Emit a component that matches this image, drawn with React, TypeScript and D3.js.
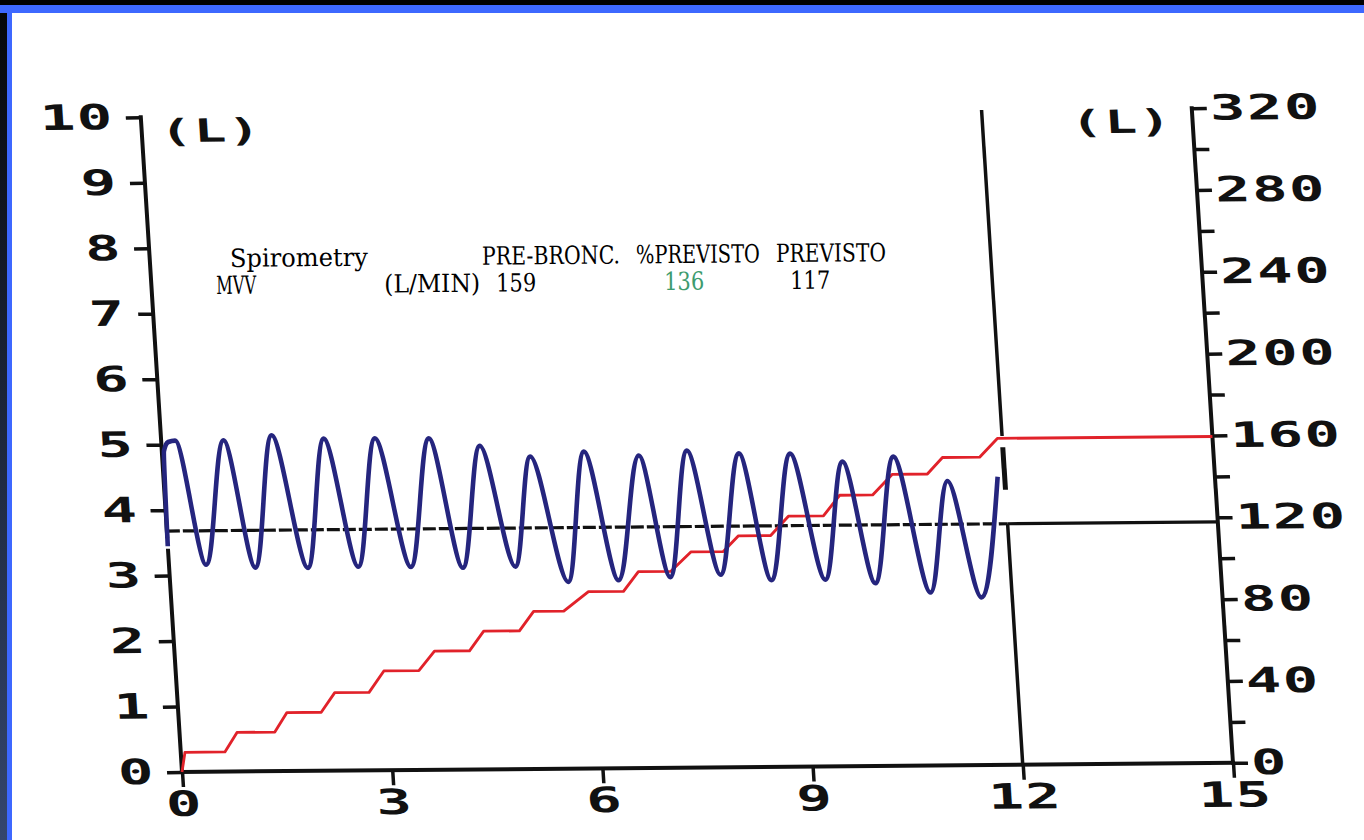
import { useEffect, useRef } from 'react'
import * as d3 from 'd3'

const WIDTH = 1364
const HEIGHT = 840

// MVV volume trace (s, L): start, then alternating peaks / troughs
const VOLUME_TRACE: [number, number][] = [
  [0, 3.45], [0.03, 4.9], [0.1, 5.04], [0.2, 5.06], [0.53, 3.16], [0.89, 5.06], [1.23, 3.11],
  [1.58, 5.13], [1.98, 3.1], [2.32, 5.07], [2.7, 3.11], [3.05, 5.07], [3.45, 3.1],
  [3.82, 5.06], [4.19, 3.08], [4.54, 4.94], [4.94, 3.09], [5.25, 4.77], [5.68, 2.85],
  [6.02, 4.84], [6.4, 2.87], [6.8, 4.77], [7.14, 2.91], [7.49, 4.84], [7.86, 2.94],
  [8.23, 4.79], [8.58, 2.85], [8.96, 4.78], [9.35, 2.85], [9.7, 4.65], [10.06, 2.79],
  [10.43, 4.72], [10.84, 2.64], [11.18, 4.34], [11.56, 2.56], [11.9, 4.4]
]

// cumulative ventilated volume (s, L) on the right axis, one step per breath
const CUMULATIVE: [number, number][] = [
  [0, 0], [0.06, 9.6], [0.63, 9.6], [0.82, 19.1], [1.36, 19.1], [1.55, 28.6], [2.04, 28.6],
  [2.25, 38.1], [2.74, 38.1], [2.97, 48.5], [3.47, 48.5], [3.71, 58.0], [4.21, 58.0],
  [4.43, 67.5], [4.94, 67.5], [5.16, 77.0], [5.59, 77.0], [5.96, 86.4], [6.46, 86.4],
  [6.69, 95.9], [7.15, 95.9], [7.46, 105.4], [7.92, 105.4], [8.15, 113.0], [8.61, 113.0],
  [8.88, 122.4], [9.38, 122.4], [9.63, 132.4], [10.1, 132.4], [10.4, 142.4], [10.9, 142.4],
  [11.13, 150.4], [11.66, 150.4], [11.93, 159.5], [15, 159.5]
]

const BASELINE = 3.68
const TEST_END = 12
// pieces of the end-of-test marker (L, from -> to)
const END_MARKER: [number, number][] = [[10, 5.02], [4.85, 4.2], [BASELINE, 0]]
// the left axis is broken where the trace starts
const LEFT_AXIS_PIECES: [number, number][] = [[0, 3.38], [3.6, 10]]

const X_TICKS = [0, 3, 6, 9, 12, 15]
const LEFT_TICKS = [0, 1, 2, 3, 4, 5, 6, 7, 8, 9, 10]
const RIGHT_TICKS = [0, 40, 80, 120, 160, 200, 240, 280, 320]
const RIGHT_MINOR = [20, 60, 100, 140, 180, 220, 260, 300]

const HEADER_ROW = ['Spirometry', 'PRE-BRONC.', '%PREVISTO', 'PREVISTO']
const MVV_ROW = ['MVV', '(L/MIN)', '159', '136', '117']

const PRINT_FONT = '"DejaVu Sans Mono", monospace'
const STRETCH = 1.68

export default function App() {
  const ref = useRef<SVGSVGElement | null>(null)

  useEffect(() => {
    if (!ref.current) return
    const svg = d3.select(ref.current)
    svg.selectAll('*').remove()

    // frame of the slide
    const defs = svg.append('defs')
    const grad = defs.append('linearGradient').attr('id', 'edge').attr('x1', 0).attr('x2', 0).attr('y1', 0).attr('y2', 1)
    grad.append('stop').attr('offset', '0%').attr('stop-color', '#050608')
    grad.append('stop').attr('offset', '100%').attr('stop-color', '#34466e')
    svg.append('rect').attr('width', WIDTH).attr('height', HEIGHT).attr('fill', '#ffffff')
    svg.append('rect').attr('x', 0).attr('y', 0).attr('width', 12).attr('height', HEIGHT).attr('fill', '#3d68ff')
    svg.append('rect').attr('x', 0).attr('y', 0).attr('width', 7).attr('height', HEIGHT).attr('fill', 'url(#edge)')
    svg.append('rect').attr('x', 0).attr('y', 5).attr('width', WIDTH).attr('height', 8).attr('fill', '#3d68ff')
    svg.append('rect').attr('x', 0).attr('y', 0).attr('width', WIDTH).attr('height', 5).attr('fill', '#000000')

    const x = d3.scaleLinear().domain([0, 15]).range([182, 1233])
    const yL = d3.scaleLinear().domain([0, 10]).range([772, 117])
    const yR = d3.scaleLinear().domain([0, 320]).range([772, 117])
    const x0 = x(0)
    const yb = yL(0)

    // photographed printout: slightly sheared and tilted
    const g = svg
      .append('g')
      .attr('transform', `rotate(-0.5 ${x0} ${yb}) translate(0 ${yb}) skewX(3.1) translate(0 ${-yb})`)

    const stretchText = (sel: d3.Selection<any, any, any, any>) => {
      sel.each(function () {
        const t = d3.select(this)
        const tx = +(t.attr('x') || 0)
        t.attr('x', tx / STRETCH).attr('transform', `scale(${STRETCH},1)`)
      })
    }

    const styleAxis = (ag: d3.Selection<SVGGElement, unknown, null, undefined>) => {
      ag.select('.domain').remove()
      ag.attr('font-family', PRINT_FONT).attr('font-size', 35).attr('font-weight', 700)
      ag.selectAll('line').attr('stroke', '#111').attr('stroke-width', 3.5)
      ag.selectAll('text').attr('fill', '#111').attr('letter-spacing', 1)
      stretchText(ag.selectAll('text'))
    }

    // left axis
    const left = g.append('g').attr('transform', `translate(${x0},0)`)
      .call(d3.axisLeft(yL).tickValues(LEFT_TICKS).tickSize(15).tickPadding(12).tickFormat(d3.format('d')))
    styleAxis(left)
    LEFT_AXIS_PIECES.forEach(([a, b]) => {
      g.append('line').attr('x1', x0).attr('x2', x0).attr('y1', yL(a)).attr('y2', yL(b))
        .attr('stroke', '#111').attr('stroke-width', 4).attr('stroke-linecap', 'square')
    })

    // right axis
    const xr = x(15)
    const right = g.append('g').attr('transform', `translate(${xr},0)`)
      .call(d3.axisRight(yR).tickValues(RIGHT_TICKS).tickSize(15).tickPadding(3).tickFormat(d3.format('d')))
    styleAxis(right)
    const rightMinor = g.append('g').attr('transform', `translate(${xr},0)`)
      .call(d3.axisRight(yR).tickValues(RIGHT_MINOR).tickSize(15).tickFormat(() => ''))
    styleAxis(rightMinor)
    g.append('line').attr('x1', xr).attr('x2', xr).attr('y1', yR(0)).attr('y2', yR(320))
      .attr('stroke', '#111').attr('stroke-width', 4).attr('stroke-linecap', 'square')

    // bottom axis
    const bottom = g.append('g').attr('transform', `translate(0,${yb})`)
      .call(d3.axisBottom(x).tickValues(X_TICKS).tickSize(15).tickPadding(4).tickFormat(d3.format('d')))
    styleAxis(bottom)
    g.append('line').attr('x1', x0).attr('x2', xr).attr('y1', yb).attr('y2', yb)
      .attr('stroke', '#111').attr('stroke-width', 4).attr('stroke-linecap', 'square')

    // unit labels
    const unit = (px: number, py: number, anchor: string) => {
      const t = g.append('text')
        .attr('x', px).attr('y', py)
        .attr('text-anchor', anchor)
        .attr('font-family', PRINT_FONT).attr('font-size', 32).attr('font-weight', 700)
        .attr('letter-spacing', 1)
        .attr('fill', '#111')
        .text('(L)')
      stretchText(t)
    }
    unit(x0 + 18, yL(10) + 25, 'start')
    unit(xr - 20, yL(10) + 24, 'end')

    // baseline
    g.append('line').attr('x1', x0).attr('x2', x(TEST_END)).attr('y1', yL(BASELINE)).attr('y2', yL(BASELINE))
      .attr('stroke', '#111').attr('stroke-width', 3.2).attr('stroke-dasharray', '13,3')
    g.append('line').attr('x1', x(TEST_END)).attr('x2', xr).attr('y1', yL(BASELINE)).attr('y2', yL(BASELINE))
      .attr('stroke', '#111').attr('stroke-width', 3.2)

    // end of test marker
    END_MARKER.forEach(([a, b], i) => {
      g.append('line').attr('x1', x(TEST_END)).attr('x2', x(TEST_END)).attr('y1', yL(a)).attr('y2', yL(b))
        .attr('stroke', '#111').attr('stroke-width', i === 1 ? 5 : 3.5)
    })

    // cumulative volume
    const redLine = d3.line<[number, number]>().x((d) => x(d[0])).y((d) => yR(d[1]))
    g.append('path').attr('d', redLine(CUMULATIVE) as string)
      .attr('fill', 'none').attr('stroke', '#e1222a').attr('stroke-width', 2.8).attr('stroke-linejoin', 'round')

    // volume trace
    const blueLine = d3.line<[number, number]>().x((d) => x(d[0])).y((d) => yL(d[1])).curve(d3.curveMonotoneX)
    g.append('path').attr('d', blueLine(VOLUME_TRACE) as string)
      .attr('fill', 'none').attr('stroke', '#25257e').attr('stroke-width', 4.6).attr('stroke-linejoin', 'round')

    // result table
    const colW = 14
    const textX = 216
    const headerCols = [1, 19, 30, 40]
    const mvvCols = [0, 12, 20, 32, 41]
    const table = svg.append('g').attr('transform', `rotate(-0.5 ${textX} 266)`)
      .attr('font-family', '"DejaVu Serif Condensed", "DejaVu Serif", serif').attr('font-size', 25)
    const row = (cells: string[], cols: number[], baseline: number, accent = -1) => {
      cells.forEach((c, i) => {
        table.append('text')
          .attr('x', textX + cols[i] * colW)
          .attr('y', baseline)
          .attr('textLength', c.length * colW - 2)
          .attr('lengthAdjust', 'spacingAndGlyphs')
          .attr('fill', i === accent ? '#3d9b6e' : '#000')
          .text(c)
      })
    }
    row(HEADER_ROW, headerCols, 267)
    row(MVV_ROW, mvvCols, 294, 3)
  }, [])

  return (
    <svg
      ref={ref}
      width={WIDTH}
      height={HEIGHT}
      style={{ position: 'absolute', left: 0, top: 0, display: 'block' }}
    />
  )
}
